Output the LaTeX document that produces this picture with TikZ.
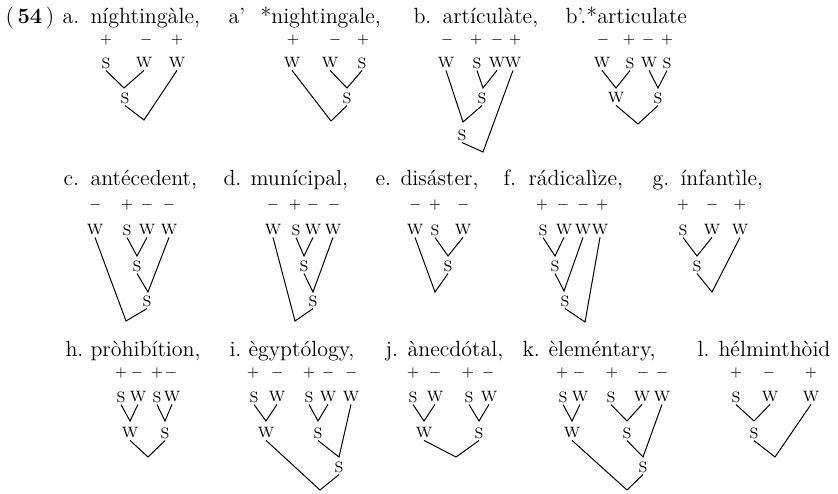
\documentclass[tikz,border=0pt]{standalone}
\usepackage{tikz}

\tikzset{
  ttl/.style={anchor=base west, inner sep=0pt, font=\fontsize{11}{13}\selectfont},
  lf/.style={inner sep=0.8pt, font=\fontsize{7.5}{9}\selectfont},
  sg/.style={inner sep=0pt, font=\fontsize{7.5}{9}\selectfont},
}

\begin{document}
\begin{tikzpicture}[x=0.5pt, y=-0.5pt, line width=0.5pt]
        \useasboundingbox (0,0) rectangle (838,493);
        % headings
        \node[ttl] (t54) at (5,23) {(\,\textbf{54}\,)};
        \node[ttl] (la) at (62,23) {a.};   \node[ttl] (wa) at (90,23) {níghtingàle,};
        \node[ttl] (lp) at (228,23) {a’};  \node[ttl] (wp) at (260,23) {*nightingale,};
        \node[ttl] (lb) at (413,23) {b.};  \node[ttl] (wb) at (442,23) {artículàte,};
        \node[ttl] (wq) at (565,23) {b’.*articulate};
        \node[ttl] (lc) at (63,185) {c.};  \node[ttl] (wc) at (90,185) {antécedent,};
        \node[ttl] (ld) at (223,185) {d.}; \node[ttl] (wd) at (250,185) {munícipal,};
        \node[ttl] (le) at (375,185) {e.}; \node[ttl] (we) at (400,185) {disáster,};
        \node[ttl] (lf) at (503,185) {f.}; \node[ttl] (wf) at (528,185) {rádicalìze,};
        \node[ttl] (lg) at (652,185) {g.}; \node[ttl] (wg) at (680,185) {ínfantìle,};
        \node[ttl] (lh) at (65,356) {h.};  \node[ttl] (wh) at (90,356) {pròhibítion,};
        \node[ttl] (li) at (229,356) {i.}; \node[ttl] (wi) at (248,356) {ègyptólogy,};
        \node[ttl] (lj) at (385,356) {j.}; \node[ttl] (wj) at (407,356) {ànecdótal,};
        \node[ttl] (lk) at (522,356) {k.}; \node[ttl] (wk) at (548,356) {èleméntary,};
        \node[ttl] (ll) at (697,356) {l.}; \node[ttl] (wl) at (718,356) {hélminthòid};

        % a
        \node[sg] (sa1) at (106,40) {$+$}; \node[sg] (sa2) at (146,40) {$-$}; \node[sg] (sa3) at (177,40) {$+$};
        \node[lf] (a1) at (106,63) {S}; \node[lf] (a2) at (144,63) {W}; \node[lf] (a3) at (177,63) {W};
        \coordinate (ja1) at (124,88); \node[lf] (na1) at (125,98) {S};
        \coordinate (ra) at (144,120);
        \draw (a1.south) -- (ja1) -- (a2.south);
        \draw (na1.south) -- (ra) -- (a3.south);

        % a'
        \node[sg] (sp1) at (293,40) {$+$}; \node[sg] (sp2) at (335,40) {$-$}; \node[sg] (sp3) at (363,40) {$+$};
        \node[lf] (p1) at (292,63) {W}; \node[lf] (p2) at (330,63) {W}; \node[lf] (p3) at (362,63) {S};
        \coordinate (jp1) at (347,88); \node[lf] (np1) at (347,98) {S};
        \coordinate (rp) at (331,121);
        \draw (p2.south) -- (jp1) -- (p3.south);
        \draw (p1.south) -- (rp) -- (np1.south);

        % b
        \node[sg] (sb1) at (447,40) {$-$}; \node[sg] (sb2) at (476,40) {$+$};
        \node[sg] (sb3) at (497,40) {$-$}; \node[sg] (sb4) at (515,40) {$+$};
        \node[lf] (b1) at (446,63) {W}; \node[lf] (b2) at (477,63) {S};
        \node[lf] (b3) at (497,63) {W}; \node[lf] (b4) at (513,63) {W};
        \coordinate (jb1) at (483,88); \node[lf] (nb1) at (482,98) {S};
        \coordinate (jb2) at (463,122); \node[lf] (nb2) at (462,135) {S};
        \coordinate (rb) at (483,152);
        \draw (b2.south) -- (jb1) -- (b3.south);
        \draw (b1.south) -- (jb2) -- (nb1.south);
        \draw (nb2.south) -- (rb) -- (b4.south);

        % b'
        \node[sg] (sq1) at (603,40) {$-$}; \node[sg] (sq2) at (629,40) {$+$};
        \node[sg] (sq3) at (648,40) {$-$}; \node[sg] (sq4) at (667,40) {$+$};
        \node[lf] (q1) at (602,63) {W}; \node[lf] (q2) at (630,63) {S};
        \node[lf] (q3) at (649,63) {W}; \node[lf] (q4) at (667,63) {S};
        \coordinate (jq1) at (616,88); \node[lf] (nq1) at (616,98) {W};
        \coordinate (jq2) at (658,88); \node[lf] (nq2) at (658,98) {S};
        \coordinate (rq) at (638,124);
        \draw (q1.south) -- (jq1) -- (q2.south);
        \draw (q3.south) -- (jq2) -- (q4.south);
        \draw (nq1.south) -- (rq) -- (nq2.south);

        % c
        \node[sg] (sc1) at (95,205) {$-$}; \node[sg] (sc2) at (127,205) {$+$};
        \node[sg] (sc3) at (147,205) {$-$}; \node[sg] (sc4) at (169,205) {$-$};
        \node[lf] (c1) at (95,230) {W}; \node[lf] (c2) at (127,230) {S};
        \node[lf] (c3) at (147,230) {W}; \node[lf] (c4) at (169,230) {W};
        \coordinate (jc1) at (137,256); \node[lf] (nc1) at (137,266) {S};
        \coordinate (jc2) at (148,292); \node[lf] (nc2) at (147,301) {S};
        \coordinate (rc) at (126,321);
        \draw (c2.south) -- (jc1) -- (c3.south);
        \draw (nc1.south) -- (jc2) -- (c4.south);
        \draw (c1.south) -- (rc) -- (nc2.south);

        % d
        \node[sg] (sd1) at (273,205) {$-$}; \node[sg] (sd2) at (295,205) {$+$};
        \node[sg] (sd3) at (313,205) {$-$}; \node[sg] (sd4) at (334,205) {$-$};
        \node[lf] (d1) at (273,230) {W}; \node[lf] (d2) at (296,230) {S};
        \node[lf] (d3) at (313,230) {W}; \node[lf] (d4) at (333,230) {W};
        \coordinate (jd1) at (304,256); \node[lf] (nd1) at (304,266) {S};
        \coordinate (jd2) at (313,292); \node[lf] (nd2) at (313,301) {S};
        \coordinate (rd) at (295,321);
        \draw (d2.south) -- (jd1) -- (d3.south);
        \draw (nd1.south) -- (jd2) -- (d4.south);
        \draw (d1.south) -- (rd) -- (nd2.south);

        % e
        \node[sg] (se1) at (415,205) {$-$}; \node[sg] (se2) at (435,205) {$+$}; \node[sg] (se3) at (463,205) {$-$};
        \node[lf] (e1) at (415,230) {W}; \node[lf] (e2) at (435,230) {S}; \node[lf] (e3) at (463,230) {W};
        \coordinate (je1) at (448,256); \node[lf] (ne1) at (448,266) {S};
        \coordinate (re) at (435,292);
        \draw (e2.south) -- (je1) -- (e3.south);
        \draw (e1.south) -- (re) -- (ne1.south);

        % f
        \node[sg] (sf1) at (542,205) {$+$}; \node[sg] (sf2) at (563,205) {$-$};
        \node[sg] (sf3) at (583,205) {$-$}; \node[sg] (sf4) at (602,205) {$+$};
        \node[lf] (f1) at (543,230) {S}; \node[lf] (f2) at (564,230) {W};
        \node[lf] (f3) at (583,230) {W}; \node[lf] (f4) at (600,230) {W};
        \coordinate (jf1) at (555,256); \node[lf] (nf1) at (555,266) {S};
        \coordinate (jf2) at (564,291); \node[lf] (nf2) at (565,301) {S};
        \coordinate (rf) at (585,322);
        \draw (f1.south) -- (jf1) -- (f2.south);
        \draw (nf1.south) -- (jf2) -- (f3.south);
        \draw (nf2.south) -- (rf) -- (f4.south);

        % g
        \node[sg] (sg1) at (683,205) {$+$}; \node[sg] (sg2) at (712,205) {$-$}; \node[sg] (sg3) at (740,205) {$+$};
        \node[lf] (g1) at (683,230) {S}; \node[lf] (g2) at (712,230) {W}; \node[lf] (g3) at (740,230) {W};
        \coordinate (jg1) at (697,256); \node[lf] (ng1) at (697,266) {S};
        \coordinate (rg) at (712,292);
        \draw (g1.south) -- (jg1) -- (g2.south);
        \draw (ng1.south) -- (rg) -- (g3.south);

        % h
        \node[sg] (sh1) at (121,373) {$+$}; \node[sg] (sh2) at (137,373) {$-$};
        \node[sg] (sh3) at (157,373) {$+$}; \node[sg] (sh4) at (171,373) {$-$};
        \node[lf] (h1) at (121,397) {S}; \node[lf] (h2) at (138,397) {W};
        \node[lf] (h3) at (157,397) {S}; \node[lf] (h4) at (172,397) {W};
        \coordinate (jh1) at (130,421); \node[lf] (nh1) at (130,433) {W};
        \coordinate (jh2) at (165,421); \node[lf] (nh2) at (165,433) {S};
        \coordinate (rh) at (148,457);
        \draw (h1.south) -- (jh1) -- (h2.south);
        \draw (h3.south) -- (jh2) -- (h4.south);
        \draw (nh1.south) -- (rh) -- (nh2.south);

        % i
        \node[sg] (si1) at (253,373) {$+$}; \node[sg] (si2) at (277,373) {$-$}; \node[sg] (si3) at (309,373) {$+$};
        \node[sg] (si4) at (328,373) {$-$}; \node[sg] (si5) at (351,373) {$-$};
        \node[lf] (i1) at (254,397) {S}; \node[lf] (i2) at (277,397) {W}; \node[lf] (i3) at (309,397) {S};
        \node[lf] (i4) at (328,397) {W}; \node[lf] (i5) at (351,397) {W};
        \coordinate (ji1) at (266,421); \node[lf] (ni1) at (266,433) {W};
        \coordinate (ji2) at (318,421); \node[lf] (ni2) at (318,433) {S};
        \coordinate (ji3) at (339,457); \node[lf] (ni3) at (339,467) {S};
        \coordinate (ri) at (320,490);
        \draw (i1.south) -- (ji1) -- (i2.south);
        \draw (i3.south) -- (ji2) -- (i4.south);
        \draw (ni2.south) -- (ji3) -- (i5.south);
        \draw (ni1.south) -- (ri) -- (ni3.south);

        % j
        \node[sg] (sj1) at (413,373) {$+$}; \node[sg] (sj2) at (435,373) {$-$};
        \node[sg] (sj3) at (468,373) {$+$}; \node[sg] (sj4) at (488,373) {$-$};
        \node[lf] (j1) at (413,397) {S}; \node[lf] (j2) at (435,397) {W};
        \node[lf] (j3) at (469,397) {S}; \node[lf] (j4) at (489,397) {W};
        \coordinate (jj1) at (424,421); \node[lf] (nj1) at (424,433) {W};
        \coordinate (jj2) at (479,421); \node[lf] (nj2) at (479,433) {S};
        \coordinate (rj) at (456,457);
        \draw (j1.south) -- (jj1) -- (j2.south);
        \draw (j3.south) -- (jj2) -- (j4.south);
        \draw (nj1.south) -- (rj) -- (nj2.south);

        % k
        \node[sg] (sk1) at (562,373) {$+$}; \node[sg] (sk2) at (579,373) {$-$}; \node[sg] (sk3) at (612,373) {$+$};
        \node[sg] (sk4) at (643,373) {$-$}; \node[sg] (sk5) at (662,373) {$-$};
        \node[lf] (k1) at (563,397) {S}; \node[lf] (k2) at (580,397) {W}; \node[lf] (k3) at (611,397) {S};
        \node[lf] (k4) at (642,397) {W}; \node[lf] (k5) at (662,397) {W};
        \coordinate (jk1) at (572,421); \node[lf] (nk1) at (572,433) {W};
        \coordinate (jk2) at (627,421); \node[lf] (nk2) at (627,433) {S};
        \coordinate (jk3) at (643,457); \node[lf] (nk3) at (643,467) {S};
        \coordinate (rk) at (627,490);
        \draw (k1.south) -- (jk1) -- (k2.south);
        \draw (k3.south) -- (jk2) -- (k4.south);
        \draw (nk2.south) -- (jk3) -- (k5.south);
        \draw (nk1.south) -- (rk) -- (nk3.south);

        % l
        \node[sg] (sl1) at (736,373) {$+$}; \node[sg] (sl2) at (769,373) {$-$}; \node[sg] (sl3) at (811,373) {$+$};
        \node[lf] (l1) at (736,397) {S}; \node[lf] (l2) at (770,397) {W}; \node[lf] (l3) at (811,397) {W};
        \coordinate (jl1) at (754,421); \node[lf] (nl1) at (754,433) {S};
        \coordinate (rl) at (775,457);
        \draw (l1.south) -- (jl1) -- (l2.south);
        \draw (nl1.south) -- (rl) -- (l3.south);
\end{tikzpicture}
\end{document}
